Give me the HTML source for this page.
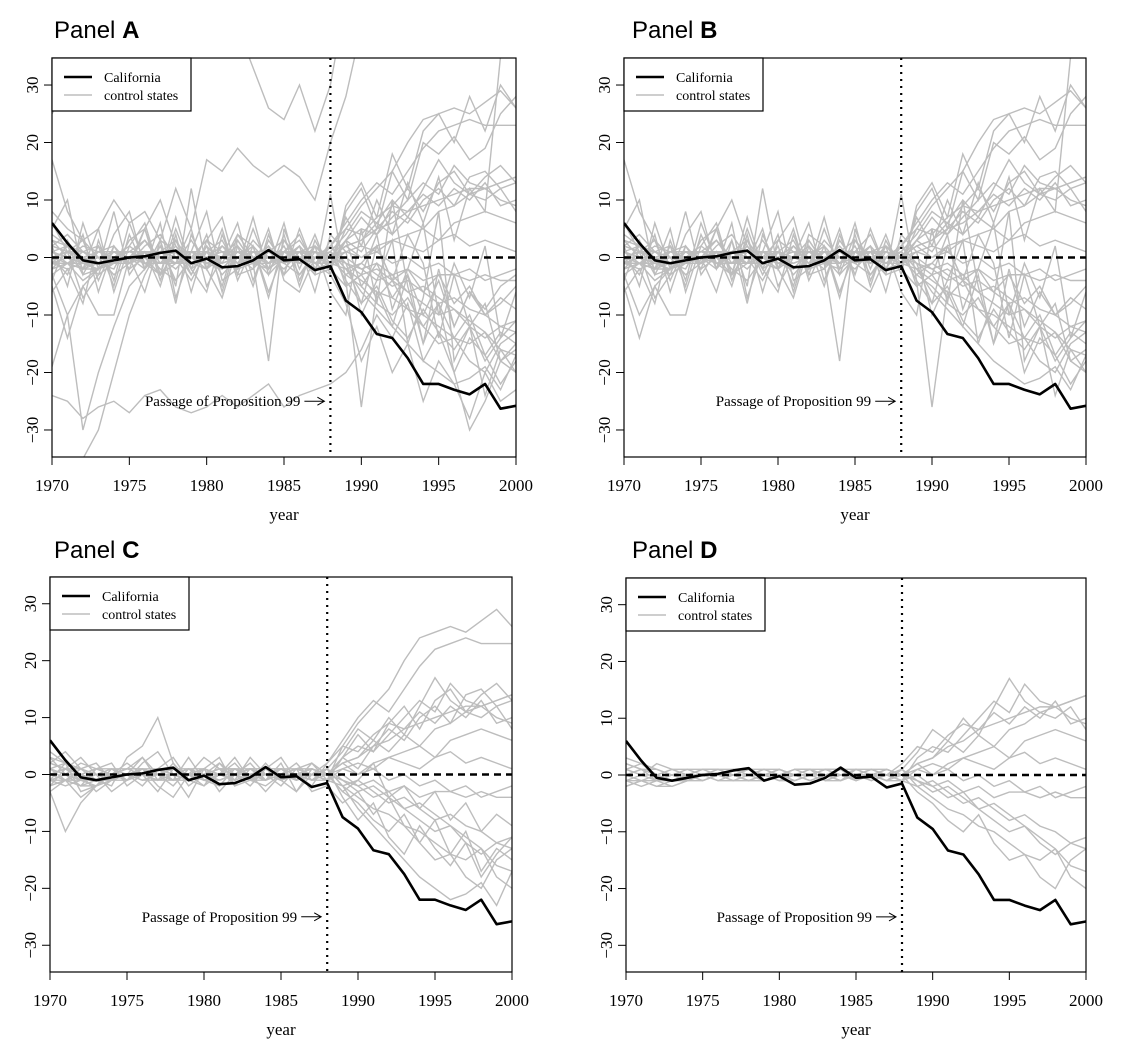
<!DOCTYPE html>
<html><head><meta charset="utf-8"><style>
body{margin:0;background:#fff;}
svg{display:block;}
</style></head><body>
<svg id="chart" width="1126" height="1043" viewBox="0 0 1126 1043" xmlns="http://www.w3.org/2000/svg"></svg>
<script>
const years = [1970,1971,1972,1973,1974,1975,1976,1977,1978,1979,1980,1981,1982,1983,1984,1985,1986,1987,1988,1989,1990,1991,1992,1993,1994,1995,1996,1997,1998,1999,2000];
const xTicks = [1970,1975,1980,1985,1990,1995,2000];
const yTicks = [-30,-20,-10,0,10,20,30];
const california = [6,2.5,-0.5,-1,-0.5,0,0.2,0.8,1.2,-1,-0.2,-1.7,-1.5,-0.5,1.3,-0.5,-0.3,-2.2,-1.5,-7.5,-9.5,-13.3,-14,-17.5,-22,-22,-23,-23.8,-22,-26.3,-25.8];
const controls = [
[1,0,-1,-1,0,0,0,1,0,-1,0,0,1,0,1,0,0,1,0,2,3,5,6,8,9,10,11,12,12,13,14],
[-1,-1,-2,-2,-1,0,0,-1,0,0,1,0,0,-1,0,1,0,0,1,-2,-4,-6,-7,-9,-10,-12,-14,-15,-13,-16,-17],
[2,1,0,-1,0,1,1,0,1,0,-1,0,1,1,0,0,1,0,-1,3,5,4,7,10,13,11,16,13,12,10,9],
[-2,-1,-1,0,-1,-1,0,0,-1,0,1,0,-1,0,0,-1,0,1,0,-1,-2,-1,-3,-2,-4,-3,-3,-4,-3,-4,-4],
[0,1,1,0,0,-1,0,1,0,1,0,-1,0,1,0,0,-1,0,0,2,3,6,4,7,5,8,9,11,12,13,14],
[1,2,1,0,-1,0,1,0,-1,0,-1,0,0,1,1,-1,0,-1,0,-3,-5,-8,-10,-7,-12,-15,-14,-18,-20,-15,-13],
[-1,0,2,1,1,0,-1,0,1,1,0,1,0,-1,-1,0,1,1,0,1,2,1,3,2,1,3,4,2,3,2,1],
[3,2,0,-1,-1,0,0,1,1,0,-1,-1,0,0,1,1,0,-1,1,4,8,6,10,7,12,17,13,11,10,12,8],
[0,-1,-2,-1,0,1,1,0,-1,-1,0,1,1,0,-1,0,1,0,-1,-2,-1,-3,-5,-4,-6,-8,-7,-9,-10,-12,-11],
[-2,-1,0,1,0,0,-1,-1,0,1,1,0,-1,0,0,1,0,-1,-1,1,0,2,3,4,5,3,6,7,8,7,6],
[1,0,0,1,0,-1,0,0,1,0,0,-1,0,1,1,0,-1,0,1,-1,-3,-2,-4,-6,-5,-7,-9,-12,-14,-12,-13],
[-1,-2,-1,0,1,1,0,0,0,-1,0,1,1,-1,0,0,0,1,0,2,0,1,-1,0,-2,-1,-3,-2,-4,-3,-2],
[2,1,-1,-2,-1,0,1,1,0,0,1,0,-1,0,-1,1,1,0,2,5,4,7,9,8,11,9,12,10,13,9,10],
[0,1,0,-1,-1,0,0,-1,-1,0,1,0,0,1,0,-1,0,0,-1,0,-2,-4,-3,-6,-8,-10,-9,-11,-13,-18,-20],
[4,2,-3,-2,0,1,3,-1,2,-2,0,2,-1,3,0,-2,1,2,-1,5,9,12,15,20,24,25,26,25,27,29,26],
[-3,-10,-5,-2,1,-1,2,4,0,-4,1,3,-2,1,-1,2,-3,0,1,-2,-6,-9,-12,-15,-18,-20,-22,-21,-19,-23,-17],
[2,4,1,-1,-2,3,5,10,2,-1,1,-3,0,2,-1,1,0,-2,2,6,10,13,11,15,19,22,23,24,23,23,23],
[-2,1,3,0,-3,-1,1,-2,-4,0,3,1,-2,-1,2,-1,-3,1,0,-3,-1,2,-4,-2,-6,-3,-8,-5,-10,-7,-9],
[1,-1,-4,-2,0,2,0,1,3,-1,-2,0,2,-1,1,3,-1,0,-1,3,1,5,8,6,10,12,9,14,15,12,13],
[-1,2,0,-3,-1,0,-2,1,-1,3,-1,-2,1,0,-3,0,2,-1,1,-4,-8,-5,-11,-14,-9,-13,-16,-12,-18,-14,-11],
[3,0,-2,1,2,-2,0,-3,1,0,-2,2,0,-2,1,1,-1,2,0,3,7,4,9,12,8,13,15,11,14,16,13],
[-3,-1,1,2,-1,0,3,0,-2,1,-1,0,3,-1,-2,0,1,-3,-2,-5,-3,-7,-4,-9,-12,-8,-14,-10,-17,-13,-15],
[6,1,-7,-3,4,8,-2,3,-5,12,-2,5,-4,2,-7,3,0,-3,11,-4,-26,-6,-12,-3,-15,-8,-20,-14,-17,-22,-18],
[17,8,3,-4,2,-1,5,-3,7,-2,4,-6,3,-1,-18,5,-2,4,-3,9,13,7,18,12,22,25,20,28,22,30,26],
[-5,-14,-5,-10,-10,0,-6,3,-8,4,-2,-7,2,-5,4,-3,5,-2,-1,7,2,10,4,13,6,14,3,12,8,35,38],
[2,-5,6,-2,8,-3,1,-5,4,-6,3,7,-3,5,-2,6,-4,2,-6,-10,5,-8,10,-5,-15,-2,-12,-6,-10,-8,-5],
[-4,3,-2,5,-6,2,6,-3,-1,5,-5,0,6,-4,3,-1,2,-6,4,1,-10,-4,3,-15,-7,8,-18,-12,-24,-16,-20],
[5,10,-3,2,-5,4,-2,6,-7,1,8,-4,-2,7,-3,4,-5,3,-2,8,12,5,15,10,20,18,21,17,19,25,28],
[0,-3,4,-6,2,-2,5,-4,3,-3,2,-5,4,2,-6,1,4,-2,3,-5,-3,4,-9,-2,6,-10,-1,-7,2,-14,-6],
[-6,-2,-8,3,-4,6,-1,-3,5,-2,-6,4,-3,-2,5,-4,-6,0,2,-1,-8,2,-4,4,-1,-14,-3,-12,-8,-18,-16],
[-19,-10,-30,-20,-12,-5,-2,3,1,-3,2,-1,4,0,-2,1,3,-1,-3,-8,-18,-12,-20,-15,-25,-18,-22,-28,-20,-25,-23],
[-24,-25,-28,-26,-25,-27,-24,-23,-26,-27,-26,-24,-26,-24,-22,-26,-24,-23,-22,-20,-16,-10,-14,-8,-18,-13,-20,-30,-25,-18,-15],
[8,5,3,5,10,6,8,3,12,5,17,15,19,16,14,16,14,10,20,28,40,45,45,45,45,45,45,45,45,45,45],
[25,30,40,45,45,45,45,45,45,45,45,45,40,33,26,24,30,22,30,45,45,45,45,45,45,45,45,45,45,45,45],
[-36,-40,-35,-30,-20,-10,-3,2,-4,0,3,-2,1,-1,2,-3,0,1,-2,3,-5,-1,-7,-3,-10,-4,-12,-6,-9,-5,-3]
];
const panelLetters = ['A','B','C','D'];
const panelSeriesCount = [35,30,22,14];
const passageYear = 1988;
const passageValue = -25;

const NS='http://www.w3.org/2000/svg';
const svg=document.getElementById('chart');
const boxes=[
 {l:52,r:516,t:58,b:457,x0:54,ty:38},
 {l:624,r:1086,t:58,b:457,x0:632,ty:38},
 {l:50,r:512,t:577,b:972,x0:54,ty:558},
 {l:626,r:1086,t:578,b:972,x0:632,ty:558}
];
function mk(tag,attrs,parent){const e=document.createElementNS(NS,tag);for(const k in attrs)e.setAttribute(k,attrs[k]);(parent||svg).appendChild(e);return e;}
const SERIF='"Liberation Serif", serif';
boxes.forEach((B,pi)=>{
 const g=mk('g',{});
 
 
 const xs=v=>B.l+(v-1970)/30*(B.r-B.l);
 const ymid=(B.t+B.b)/2, per=(B.b-B.t)/69.4;
 const ys=v=>ymid-v*per;
 const clipId='clip'+pi;
 const cp=mk('clipPath',{id:clipId},g);mk('rect',{x:B.l,y:B.t,width:B.r-B.l,height:B.b-B.t},cp);
 const title=mk('text',{x:B.x0,y:B.ty,'font-family':'"Liberation Sans", sans-serif','font-size':24},g);
 
 
 title.innerHTML='Panel <tspan font-weight="bold">'+panelLetters[pi]+'</tspan>';
 const lines=mk('g',{'clip-path':'url(#'+clipId+')'},g);
 for(let s=0;s<panelSeriesCount[pi];s++){
  const p=mk('polyline',{points:controls[s].map((v,i)=>xs(years[i])+','+ys(v)).join(' '),fill:'none',stroke:'#bdbdbd','stroke-width':1.4},lines);
  
  
 }
 const z=mk('line',{x1:B.l,x2:B.r,y1:ys(0),y2:ys(0),stroke:'#000','stroke-width':2.5,'stroke-dasharray':'7,5'},g);
 
 
 const ca=mk('polyline',{points:california.map((v,i)=>xs(years[i])+','+ys(v)).join(' '),fill:'none',stroke:'#000','stroke-width':2.6,'stroke-linejoin':'round'},lines);
 
 
 const vl=mk('line',{x1:xs(passageYear),x2:xs(passageYear),y1:B.t,y2:B.b,stroke:'#000','stroke-width':2.2,'stroke-dasharray':'2,5'},g);
 
 
 const at=mk('text',{x:xs(passageYear)-30,y:ys(passageValue)+5,'text-anchor':'end','font-family':SERIF,'font-size':15},g);
 at.textContent='Passage of Proposition 99';
 
 
 const ay=ys(passageValue), ax=xs(passageYear)-6;
 const ar=mk('path',{d:`M${ax-20},${ay} L${ax},${ay} M${ax-7},${ay-4} L${ax},${ay} L${ax-7},${ay+4}`,fill:'none',stroke:'#000','stroke-width':1},g);
 
 
 const box=mk('rect',{x:B.l,y:B.t,width:B.r-B.l,height:B.b-B.t,fill:'none',stroke:'#000','stroke-width':1.2},g);
 
 
 xTicks.forEach(t=>{
  const tk=mk('line',{x1:xs(t),x2:xs(t),y1:B.b,y2:B.b+8,stroke:'#000','stroke-width':1},g);
  
  
  const tl=mk('text',{x:xs(t),y:B.b+34,'text-anchor':'middle','font-family':SERIF,'font-size':17},g);
  tl.textContent=t;
  
  
 });
 yTicks.forEach(t=>{
  const tk=mk('line',{x1:B.l-8,x2:B.l,y1:ys(t),y2:ys(t),stroke:'#000','stroke-width':1},g);
  
  
  const tl=mk('text',{x:0,y:0,'text-anchor':'middle','font-family':SERIF,'font-size':17,transform:`translate(${B.l-14},${ys(t)}) rotate(-90)`},g);
  tl.textContent=t<0?'\u2212'+(-t):t;
  
  
 });
 const xl=mk('text',{x:(B.l+B.r)/2,y:B.b+63,'text-anchor':'middle','font-family':SERIF,'font-size':17},g);
 xl.textContent='year';
 
 
 const lg=mk('g',{},g);
 
 
 mk('rect',{x:B.l,y:B.t,width:139,height:53,fill:'#fff',stroke:'#000','stroke-width':1.2},lg);
 mk('line',{x1:B.l+12,x2:B.l+40,y1:B.t+19,y2:B.t+19,stroke:'#000','stroke-width':2.6},lg);
 mk('line',{x1:B.l+12,x2:B.l+40,y1:B.t+37,y2:B.t+37,stroke:'#bdbdbd','stroke-width':1.4},lg);
 const l1=mk('text',{x:B.l+52,y:B.t+24,'font-family':SERIF,'font-size':14},lg);l1.textContent='California';
 
 
 const l2=mk('text',{x:B.l+52,y:B.t+42,'font-family':SERIF,'font-size':14},lg);l2.textContent='control states';
 
 
});
</script>
</body></html>
